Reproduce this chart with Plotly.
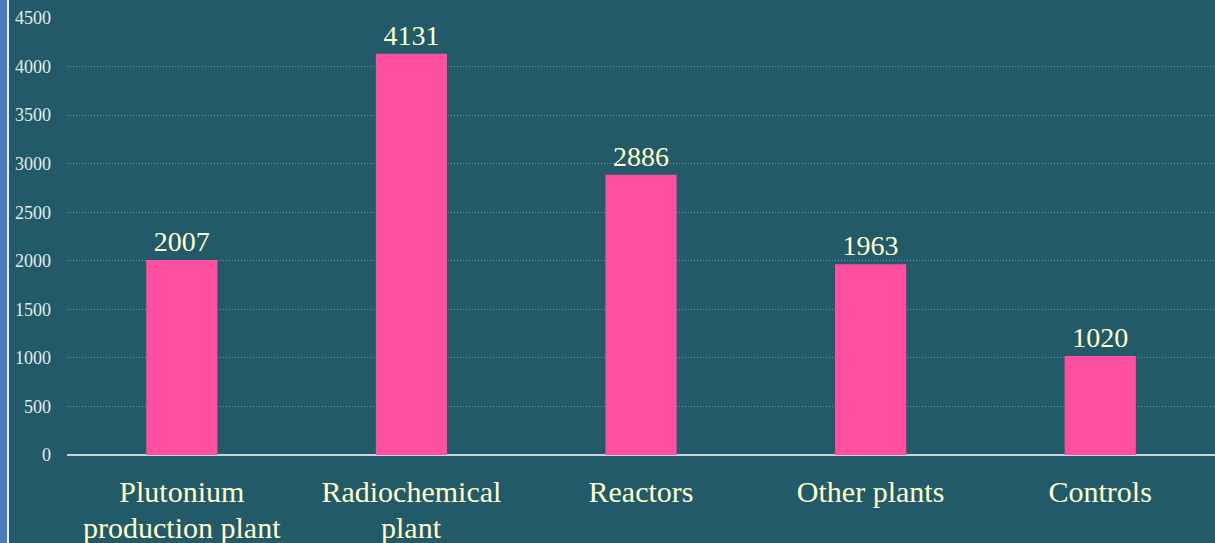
import plotly.graph_objects as go

categories = ["Plutonium production plant", "Radiochemical plant", "Reactors", "Other plants", "Controls"]
label_line1 = ["Plutonium", "Radiochemical", "Reactors", "Other plants", "Controls"]
label_line2 = ["production plant", "plant", "", "", ""]
values = [2007, 4131, 2886, 1963, 1020]
y_ticks = [0, 500, 1000, 1500, 2000, 2500, 3000, 3500, 4000, 4500]

W, H = 1215, 543
L, R, T, B = 67, 0, 18, 88
pw = W - L - R
TXT = "#FFFFCC"

fig = go.Figure(go.Bar(
    x=categories, y=values,
    marker=dict(color="#FF4FA0", line=dict(width=0)),
    text=[str(v) for v in values], textposition="outside",
    textfont=dict(family="Liberation Serif", size=28, color=TXT),
    cliponaxis=False, width=0.31,
))

annotations = [
    dict(x=c, y=0, xref="x", yref="y", text=t, showarrow=False, yanchor="top", yshift=-54,
         font=dict(family="Liberation Serif", size=30, color=TXT))
    for c, t in zip(categories, label_line2) if t
]

fig.update_layout(
    width=W, height=H,
    margin=dict(l=L, r=R, t=T, b=B),
    paper_bgcolor="#225A69", plot_bgcolor="#225A69",
    showlegend=False,
    font=dict(family="Liberation Serif"),
    xaxis=dict(showgrid=False, ticks="", showline=False,
               tickmode="array", tickvals=categories, ticktext=label_line1,
               tickfont=dict(family="Liberation Serif", size=30, color=TXT),
               ticklabelstandoff=16),
    yaxis=dict(range=[0, 4500], tickvals=y_ticks, ticks="",
               showgrid=True, gridcolor="rgba(175,195,200,0.6)", griddash="1px,2px", gridwidth=1,
               zeroline=True, zerolinecolor="#C8D4D8", zerolinewidth=2,
               tickfont=dict(family="Liberation Serif", size=18, color="#E4ECEC"),
               ticklabelstandoff=15),
    annotations=annotations,
    shapes=[
        dict(type="rect", xref="paper", yref="paper", x0=-L / pw, x1=-(L - 7) / pw, y0=-1, y1=2,
             fillcolor="#4A78B8", line=dict(width=0), layer="above"),
        dict(type="rect", xref="paper", yref="paper", x0=-(L - 7) / pw, x1=-(L - 9) / pw, y0=-1, y1=2,
             fillcolor="#E8EEF4", line=dict(width=0), layer="above"),
    ],
)

fig.write_html("out.html", config={"displayModeBar": False},
               post_script="document.body.style.margin='0';document.body.style.overflow='hidden';")
